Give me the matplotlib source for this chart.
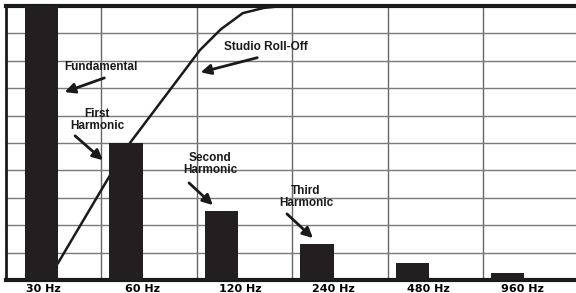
import matplotlib
matplotlib.use("Agg")
import matplotlib.pyplot as plt
from matplotlib import font_manager

# harmonic bars
freq_labels = ["30 Hz", "60 Hz", "120 Hz", "240 Hz", "480 Hz", "960 Hz"]
levels = [10.5, 5.0, 2.53, 1.30, 0.63, 0.27]

# studio roll-off curve (column units, grid units)
roll_x = [0.545, 1.079, 1.298, 2.031, 2.25, 2.48, 2.70, 2.90]
roll_y = [0.62, 3.76, 5.0, 8.39, 9.15, 9.74, 9.93, 10.0]

bar_x = [0.37, 1.257, 2.257, 3.257, 4.257, 5.25]
label_x = [0.39, 1.43, 2.45, 3.43, 4.42, 5.41]

names = {f.name for f in font_manager.fontManager.ttflist}
if "Liberation Sans Narrow" in names:
    note_family, note_size = "Liberation Sans Narrow", 10
else:
    note_family, note_size = "Liberation Sans", 8.5

fig = plt.figure(figsize=(5.76, 2.93), dpi=100)
ax = fig.add_axes([6 / 576, 13 / 293, 570 / 576, 274 / 293])

ax.set_xlim(0, 5.97)
ax.set_ylim(0, 10)

for gx in range(1, 6):
    ax.axvline(gx, color="#666666", lw=1.0, zorder=1)
for gy in range(1, 10):
    ax.axhline(gy, color="#7a7a7a", lw=1.0, zorder=1)

ax.plot(roll_x, roll_y, color="#1a1a1a", lw=1.8, zorder=2)
ax.bar(bar_x, levels, width=0.35, color="#231f20", zorder=3)

ax.spines["right"].set_visible(False)
ax.spines["top"].set_linewidth(3)
ax.spines["bottom"].set_linewidth(3)
ax.spines["left"].set_linewidth(2)
for s in ["top", "bottom", "left"]:
    ax.spines[s].set_color("#1a1a1a")

ax.set_yticks([])
ax.set_xticks(label_x)
ax.set_xticklabels(freq_labels, fontsize=8, fontweight="bold", family="DejaVu Sans")
ax.tick_params(axis="x", length=0, pad=3)

afont = dict(fontsize=note_size, fontweight="bold", family=[note_family, "DejaVu Sans"],
             ha="center", va="center", color="#1a1a1a")
aprops = dict(arrowstyle="-|>,head_length=0.6,head_width=0.3", color="#1a1a1a", lw=2)


def px(x, y):
    return ((x - 6) / 95.5, (280 - y) / 27.4)


def note(text, tx, ty, tail, head):
    ax.text(*px(tx, ty), text, zorder=5, linespacing=1.0, **afont)
    ax.annotate("", xy=px(*head), xytext=px(*tail), arrowprops=aprops, zorder=5)


note("Fundamental", 101, 67, (107, 77), (62, 93))
note("First\nHarmonic", 97, 120, (73, 134), (105, 162))
note("Studio Roll-Off", 266, 47, (260, 57), (198, 73))
note("Second\nHarmonic", 210, 164, (187, 181), (215, 207))
note("Third\nHarmonic", 306, 197, (285, 212), (315, 240))

fig.savefig("out.png", dpi=100)
